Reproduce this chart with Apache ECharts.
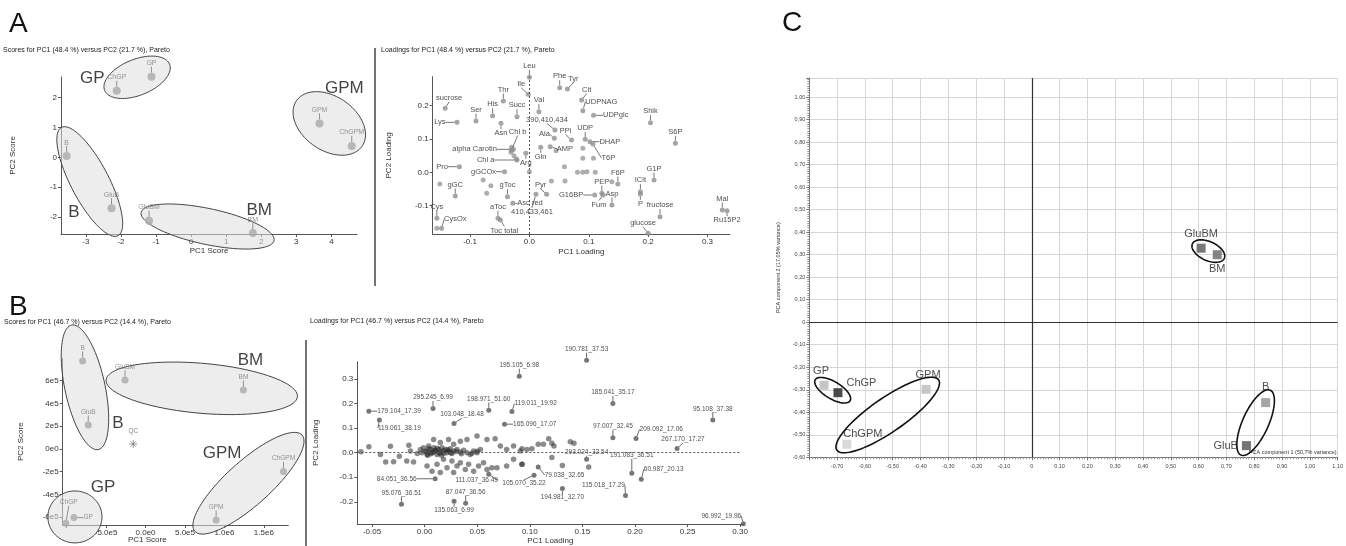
<!DOCTYPE html>
<html><head><meta charset="utf-8">
<script src="https://cdn.jsdelivr.net/npm/echarts@6/dist/echarts.min.js"></script>
<style>html,body{margin:0;padding:0;background:#fff}#c{width:1346px;height:546px}</style>
</head><body><div id="c"></div>
<script>
// ---------- Panel A: scores ----------
const A_SC_NAMES = ['ChGP','GP','GPM','ChGPM','B','GluB','GluBM','BM'];
const A_SC_PC1 = [-2.12,-1.13,3.66,4.58,-3.55,-2.27,-1.2,1.76];
const A_SC_PC2 = [2.22,2.69,1.13,0.38,0.04,-1.7,-2.12,-2.53];
const A_GROUPS = ['GP','GPM','B','BM'];
const A_GROUP_X = [-2.82,4.37,-3.34,1.94];
const A_GROUP_Y = [2.63,2.29,-1.84,-1.76];
// ellipse: centre x,y, semi-axis vector 1, semi-axis vector 2 (data units)
const A_ELLIPSES = [
  [-1.54,2.67,0.926,0.437,0.191,-0.557],
  [3.94,1.13,0.934,-0.763,-0.442,-0.737],
  [-2.89,-0.81,0.806,-1.807,-0.481,-0.293],
  [0.47,-2.31,1.895,-0.47,-0.105,-0.587]
];
// ---------- Panel A: loadings ----------
const LA_NAMES = ['Leu','Ile','Phe','Tyr','Cit','UDPNAG','UDPglc','Shik','S6P','Thr','sucrose','His','Succ','Ser','Val','Lys','390,410,434','PPi','Asn','Chl b','Ala','AMP','Gln','alpha Carotin','Chl a','Arg','Pro','gGCOx','gGC','gToc','Pyr','Asc red','410,433,461','aToc','Toc total','Cys','CysOx','UDP','DHAP','T6P','G1P','F6P','PEP','ICit','P','G16BP','Fum','Asp','fructose','Mal','Ru15P2','glucose'];
const LA_PC1 = [0.0,-0.002,0.051,0.064,0.088,0.09,0.108,0.204,0.246,-0.044,-0.142,-0.062,-0.021,-0.09,0.016,-0.122,0.043,0.071,-0.048,-0.03,0.042,0.035,0.019,-0.027,-0.021,-0.006,-0.118,-0.042,-0.125,-0.037,0.029,-0.028,0.011,-0.053,-0.049,-0.156,-0.148,0.094,0.102,0.107,0.21,0.149,0.122,0.187,0.187,0.11,0.124,0.139,0.22,0.325,0.333,0.2];
const LA_PC2 = [0.285,0.234,0.254,0.25,0.217,0.185,0.171,0.149,0.087,0.214,0.192,0.17,0.167,0.154,0.182,0.15,0.127,0.097,0.147,0.067,0.102,0.077,0.075,0.069,0.037,0.057,0.017,0.002,-0.071,-0.073,-0.066,-0.093,-0.066,-0.138,-0.143,-0.138,-0.168,0.099,0.092,0.085,-0.023,-0.035,-0.063,-0.058,-0.066,-0.068,-0.068,-0.098,-0.133,-0.113,-0.115,-0.183];
const LA_UN_PC1 = [0.059,0.09,0.09,0.108,0.081,0.09,0.097,0.111,0.06,0.139,0.037,-0.151,-0.078,-0.065,-0.072,-0.03,-0.026,-0.022,0.0,-0.031,0.045,-0.156];
const LA_UN_PC2 = [0.017,0.072,0.042,0.042,0.0,0.0,0.002,0.0,-0.026,-0.028,-0.026,-0.035,-0.023,-0.04,-0.063,0.075,0.05,0.04,0.002,0.06,0.065,-0.168];
// ---------- Panel B: scores ----------
const B_SC_NAMES = ['B','GluBM','BM','GluB','ChGPM','GPM','GP','ChGP'];
const B_SC_PC1 = [-7.97e5,-2.6e5,1.241e6,-7.26e5,1.749e6,8.95e5,-9.07e5,-1.01e6];
const B_SC_PC2 = [7.73e5,6.06e5,5.18e5,2.11e5,-1.99e5,-6.24e5,-6.03e5,-6.53e5];
const B_QC = [-1.55e5, 0.44e5];
const B_GROUPS = ['BM','B','GPM','GP'];
const B_GROUP_X = [1.33e6,-3.49e5,9.7e5,-5.39e5];
const B_GROUP_Y = [7.82e5,2.28e5,-0.35e5,-3.34e5];
const B_ELLIPSES = [
  [-7.68e5,5.42e5,-1.69e5,5.47e5,2.49e5,0.37e5],
  [7.13e5,5.33e5,1.213e6,-0.738e5,-0.279e5,-2.187e5],
  [-8.95e5,-5.97e5,3.43e5,0,0,2.28e5],
  [1.305e6,-3.01e5,6.79e5,4.23e5,1.87e5,-1.44e5]
];
// ---------- Panel B: loadings ----------
const LB_NAMES = ['195.105_6.98','295.245_6.99','198.971_51.60','119.011_19.92','179.104_17.39','103.048_18.48','119.061_38.19','165.096_17.07','190.781_37.53','185.041_35.17','95.108_37.38','97.007_32.45','209.092_17.06','267.170_17.27','293.024_32.54','191.083_36.51','60.987_20.13','79.038_32.65','105.070_35.22','194.981_32.70','115.018_17.29','96.992_19.96','84.051_36.56','111.037_36.49','87.047_36.56','95.076_36.51','135.063_6.99'];
const LB_PC1 = [0.090,0.008,0.061,0.083,-0.053,0.028,-0.043,0.076,0.154,0.179,0.274,0.179,0.201,0.240,0.154,0.197,0.206,0.108,0.104,0.131,0.191,0.303,0.010,0.061,0.039,-0.022,0.028];
const LB_PC2 = [0.311,0.180,0.173,0.167,0.169,0.119,0.133,0.116,0.376,0.200,0.133,0.061,0.058,0.017,-0.027,-0.084,-0.108,-0.058,-0.092,-0.146,-0.174,-0.289,-0.106,-0.088,-0.206,-0.210,-0.197];
const LB_UN_PC1 = [-0.0605,-0.053,-0.042,-0.037,-0.0325,-0.0295,-0.024,-0.017,-0.015,-0.0135,-0.0105,-0.007,
 -0.004,-0.0025,-0.001,0.0007,0.0023,0.0038,0.0054,0.007,0.0086,0.0102,0.0118,0.0133,0.0149,0.0165,0.018,0.0197,0.0213,0.0228,0.0244,0.026,0.0276,0.0308,0.034,0.0371,0.0403,0.0434,0.0466,0.0498,0.053,
 0.002,0.006,0.01,0.004,0.014,0.008,0.018,0.022,0.012,0.003,0.016,0.025,0.03,0.035,0.045,0.05,
 0.0086,0.0149,0.0228,0.0276,0.034,0.0403,0.0498,0.0593,0.067,0.072,0.078,0.0846,0.091,0.0973,
 0.0023,0.007,0.0118,0.0149,0.018,0.0213,0.026,0.0276,0.0308,0.034,0.0387,0.0418,0.0466,0.0513,0.056,0.0593,0.064,0.0688,0.078,0.0846,0.0926,
 0.0926,0.102,0.108,0.113,0.118,0.121,0.123,0.1385,0.142,0.0926,0.121,0.131,0.156];
const LB_UN_PC2 = [0.004,0.024,-0.007,-0.038,0.026,-0.037,-0.014,-0.034,0.03,0.007,-0.038,-0.003,
 0.013,0.0,0.02,0.0066,-0.007,0.027,0.013,0.0,0.02,0.0066,-0.007,0.013,0.0025,0.02,-0.003,0.013,0.0,0.0066,0.016,-0.003,0.0066,0.013,0.0025,0.01,0.0,-0.007,0.0066,0.0,0.013,
 0.004,-0.004,0.01,0.016,-0.002,0.002,0.008,0.012,0.018,-0.01,-0.01,0.0,0.005,-0.004,-0.002,0.006,
 0.054,0.041,0.054,0.034,0.047,0.054,0.0675,0.054,0.057,0.027,0.013,0.027,0.0066,0.013,
 -0.054,-0.075,-0.0475,-0.081,-0.027,-0.061,-0.034,-0.081,-0.054,-0.041,-0.068,-0.0475,-0.075,-0.054,-0.041,-0.068,-0.061,-0.061,-0.054,-0.027,-0.0475,
 0.016,0.016,0.034,0.034,0.057,0.038,0.027,0.044,0.038,-0.0475,-0.02,-0.052,-0.058];
// ---------- Panel C ----------
const C_NAMES = ['GP','ChGP','GPM','ChGPM','GluBM','BM','B','GluB'];
const C_PC1 = [-0.747,-0.697,-0.38,-0.665,0.609,0.667,0.841,0.772];
const C_PC2 = [-0.28,-0.313,-0.298,-0.542,0.329,0.3,-0.357,-0.548];
const C_ELLIPSES = [
  [-0.716,-0.302,0.0627,-0.0467,-0.0158,-0.0324],
  [-0.518,-0.412,0.183,0.156,0.0344,-0.0622],
  [0.635,0.316,0.0573,-0.0324,-0.014,-0.0382],
  [0.805,-0.446,0.0527,0.144,0.0423,-0.0238]
];

// ---------- styles (label placement: [position, dx, dy]) ----------
const FONT = 'Liberation Sans, Arial, sans-serif';
const LA_LABEL = {
  'Ile':['top',-7,-2],'Tyr':['top',6,-2],'Cit':['top',5,-2],'UDPNAG':['right',-2,-9],'UDPglc':['right',5,0],
  'sucrose':['top',4,-2],'Lys':['left',-7,0],'390,410,434':['top',-8,-2],'PPi':['top',-6,-1],'Asn':['bottom',0,1],
  'Chl b':['top',6,-10],'Ala':['left',0,-4],'AMP':['right',2,2],'Gln':['bottom',0,1],'alpha Carotin':['left',-12,0],
  'Chl a':['left',-18,0],'Arg':['bottom',0,1],'Pro':['left',-7,0],'gGCOx':['left',-4,0],'Pyr':['top',-6,-1],
  'Asc red':['right',0,0],'410,433,461':['bottom',-4,9],'Toc total':['bottom',4,2],'CysOx':['right',-2,-9],
  'DHAP':['right',5,0],'T6P':['right',4,14],'P':['bottom',0,1],'G16BP':['left',-7,0],'Fum':['bottom',-4,1],
  'Ru15P2':['bottom',0,1],'glucose':['top',-5,-2]
};
const LB_LABEL = {
  '119.011_19.92':['right',-2,-8],'179.104_17.39':['right',4,0],'103.048_18.48':['top',8,-1],
  '119.061_38.19':['bottom',20,0],'165.096_17.07':['right',4,0],'209.092_17.06':['right',-1,-9],
  '267.170_17.27':['top',6,-1],'293.024_32.54':['top',0,1],'191.083_36.51':['top',0,-10],
  '60.987_20.13':['right',-2,-10],'79.038_32.65':['right',2,8],'105.070_35.22':['bottom',-10,0],
  '194.981_32.70':['bottom',0,1],'115.018_17.29':['top',-22,-2],'96.992_19.96':['top',-22,0],
  '84.051_36.56':['left',-14,0],'111.037_36.49':['bottom',-12,-2],'135.063_6.99':['bottom',0,1]
};
const B_SC_LABEL = {'GP':['right',4,0],'ChGP':['top',3,-12]};
const C_COLORS = {'GP':'#b6b6b6','ChGP':'#1e1e1e','GPM':'#bcbcbc','ChGPM':'#d0d0d0','GluBM':'#565656','BM':'#666666','B':'#8e8e8e','GluB':'#515151'};
const C_LABEL = {'GP':['top',-3,0],'ChGP':['right',0,-10],'GPM':['top',2,0],'ChGPM':['top',16,4],'GluBM':['top',0,0],'BM':['bottom',0,0],'B':['top',0,-2],'GluB':['left',0,0]};

function pts(names, xs, ys, lmap, defPos){
  return xs.map((x,i)=>{
    const n = names ? names[i] : '';
    const s = (lmap && lmap[n]) || [defPos,0,0];
    return {name:n, value:[x, ys[i]], label:{position:s[0]}};
  });
}
function layoutFn(names, lmap, defDy){
  return p => { const s = lmap && lmap[names[p.dataIndex]]; return s ? {dx:s[1], dy:s[2]} : {dx:0, dy:defDy}; };
}
function ellipse(xi, data, style){
  return {type:'custom', xAxisIndex:xi, yAxisIndex:xi, z:1, silent:true, clip:false,
    encode:{x:0,y:1}, data:data,
    renderItem:(params, api)=>{
      const c=[api.value(0),api.value(1)], a=[api.value(2),api.value(3)], b=[api.value(4),api.value(5)];
      const p=[];
      for(let i=0;i<90;i++){const t=i/90*2*Math.PI;
        p.push(api.coord([c[0]+a[0]*Math.cos(t)+b[0]*Math.sin(t), c[1]+a[1]*Math.cos(t)+b[1]*Math.sin(t)]));}
      return {type:'polygon', shape:{points:p}, style:style};
    }};
}
function groupLabels(xi, names, xs, ys){
  return {type:'scatter', xAxisIndex:xi, yAxisIndex:xi, z:6, silent:true, clip:false, symbolSize:1,
    itemStyle:{color:'rgba(0,0,0,0)'},
    label:{show:true, position:'inside', formatter:'{b}', fontSize:17, color:'#111', fontFamily:FONT},
    data: pts(names, xs, ys, null, 'inside')};
}
function dotted(xi, lines){
  return {type:'scatter', xAxisIndex:xi, yAxisIndex:xi, data:[], silent:true,
    markLine:{silent:true, symbol:'none', animation:false, label:{show:false},
      lineStyle:{color:'#555', type:[2,2], width:1}, data:lines}};
}
function axis(gi, min, max, step, fmt, extra){
  return Object.assign({gridIndex:gi, type:'value', min:min, max:max, minInterval:step, maxInterval:step,
    splitLine:{show:false}, axisLine:{onZero:false, lineStyle:{color:'#555'}},
    axisTick:{length:3, lineStyle:{color:'#555'}},
    axisLabel:{fontSize:8, color:'#333', fontFamily:FONT, margin:4, formatter:fmt, showMinLabel:false, showMaxLabel:false},
    nameTextStyle:{fontSize:8, color:'#333', fontFamily:FONT}}, extra||{});
}
const f1 = v => v.toFixed(1), f2 = v => v.toFixed(2), f0 = v => String(Math.round(v));
const fe1 = v => v <= -9.9e5 ? '' : v.toExponential(1).replace('+','');
const fe0 = v => v.toExponential(0).replace('+','');
const fc = v => Math.abs(v) < 1e-9 ? '0' : v.toFixed(2).replace('.',',');

const ellStyleAB = {fill:'rgba(222,222,222,0.55)', stroke:'#444', lineWidth:1};
const ellStyleC = {fill:'none', stroke:'#111', lineWidth:1.6};
const smallLbl = (col, fs) => ({show:true, formatter:'{b}', fontSize:fs, color:col, fontFamily:FONT, distance:2});

const option = {
  animation:false,
  backgroundColor:'#fff',
  title:[
    {text:'A', left:9, top:10, padding:0, textStyle:{fontSize:28, fontWeight:'normal', color:'#111', fontFamily:FONT}},
    {text:'B', left:9, top:293, padding:0, textStyle:{fontSize:28, fontWeight:'normal', color:'#111', fontFamily:FONT}},
    {text:'C', left:782, top:9, padding:0, textStyle:{fontSize:28, fontWeight:'normal', color:'#111', fontFamily:FONT}},
    {text:'Scores for PC1 (48.4 %) versus PC2 (21.7 %), Pareto', left:3, top:47, padding:0, textStyle:{fontSize:7, fontWeight:'normal', color:'#222', fontFamily:FONT}},
    {text:'Loadings for PC1 (48.4 %) versus PC2 (21.7 %), Pareto', left:381, top:47, padding:0, textStyle:{fontSize:7, fontWeight:'normal', color:'#222', fontFamily:FONT}},
    {text:'Scores for PC1 (46.7 %) versus PC2 (14.4 %), Pareto', left:4, top:319, padding:0, textStyle:{fontSize:7, fontWeight:'normal', color:'#222', fontFamily:FONT}},
    {text:'Loadings for PC1 (46.7 %) versus PC2 (14.4 %), Pareto', left:310, top:318, padding:0, textStyle:{fontSize:7, fontWeight:'normal', color:'#222', fontFamily:FONT}},
    {text:'PC1 Score', left:128, top:536, padding:0, textStyle:{fontSize:8, fontWeight:'normal', color:'#333', fontFamily:FONT}}
  ],
  graphic:[
    {type:'line', shape:{x1:375,y1:48,x2:375,y2:286}, style:{stroke:'#444', lineWidth:1.5}},
    {type:'line', shape:{x1:306,y1:340,x2:306,y2:546}, style:{stroke:'#444', lineWidth:1.5}}
  ],
  grid:[
    {left:61, top:77, width:296, height:157},
    {left:432.7, top:76.7, width:297.3, height:157.3},
    {left:62.7, top:358.5, width:225.6, height:166.5},
    {left:357.3, top:361.7, width:386, height:163.3},
    {left:809.3, top:78, width:530.7, height:379.3}
  ],
  xAxis:[
    axis(0,-3.71,4.73,1,f0,{name:'PC1 Score', nameLocation:'middle', nameGap:13}),
    axis(1,-0.163,0.338,0.1,f1,{name:'PC1 Loading', nameLocation:'middle', nameGap:14}),
    axis(2,-1.05e6,1.81e6,5e5,fe1),
    axis(3,-0.064,0.303,0.05,f2,{name:'PC1 Loading', nameLocation:'middle', nameGap:13}),
    {gridIndex:4, type:'value', min:-0.8, max:1.1, interval:0.1,
      splitLine:{show:true, lineStyle:{color:'#d6d6d6', width:1}},
      axisLine:{onZero:false, lineStyle:{color:'#777'}}, axisTick:{length:3, lineStyle:{color:'#777'}},
      minorTick:{show:true, splitNumber:10, length:2, lineStyle:{color:'#999'}},
      axisLabel:{fontSize:5.5, color:'#444', fontFamily:FONT, margin:6, formatter:fc, showMinLabel:false, showMaxLabel:true},
      name:'PCA component 1 (50,7% variance)', nameLocation:'end', nameGap:-1,
      nameTextStyle:{fontSize:5.5, color:'#333', fontFamily:FONT, align:'right', verticalAlign:'bottom', padding:[0,0,2,0]}}
  ],
  yAxis:[
    axis(0,-2.56,2.68,1,f0,{name:'PC2 Score', nameLocation:'middle', nameGap:44}),
    axis(1,-0.185,0.287,0.1,f1,{name:'PC2 Loading', nameLocation:'middle', nameGap:40}),
    axis(2,-6.68e5,7.95e5,2e5,fe0,{name:'PC2 Score', nameLocation:'middle', nameGap:38}),
    axis(3,-0.29,0.37,0.1,f1,{name:'PC2 Loading', nameLocation:'middle', nameGap:38}),
    {gridIndex:4, type:'value', min:-0.6, max:1.085, interval:0.1,
      splitLine:{show:true, lineStyle:{color:'#d6d6d6', width:1}},
      axisLine:{onZero:false, lineStyle:{color:'#777'}}, axisTick:{length:3, lineStyle:{color:'#777'}},
      minorTick:{show:true, splitNumber:10, length:2, lineStyle:{color:'#999'}},
      axisLabel:{fontSize:5.5, color:'#444', fontFamily:FONT, margin:4, formatter:fc, showMinLabel:true, showMaxLabel:false},
      name:'PCA component 2 (17,05% variance)', nameLocation:'middle', nameGap:28,
      nameTextStyle:{fontSize:5.5, color:'#333', fontFamily:FONT}}
  ],
  series:[
    // ---- A scores
    ellipse(0, A_ELLIPSES, ellStyleAB),
    dotted(0, [[{coord:[0,-2.56]},{coord:[0,3.45]}],[{coord:[-3.71,0]},{coord:[5.1,0]}]]),
    {type:'scatter', xAxisIndex:0, yAxisIndex:0, z:4, clip:false, symbolSize:8,
      itemStyle:{color:'#a9a9a9'}, label:smallLbl('#7a7a7a',7),
      labelLine:{show:true, lineStyle:{color:'#777', width:0.8}},
      labelLayout: layoutFn(A_SC_NAMES, null, -4),
      data: pts(A_SC_NAMES, A_SC_PC1, A_SC_PC2, null, 'top')},
    groupLabels(0, A_GROUPS, A_GROUP_X, A_GROUP_Y),
    // ---- A loadings
    dotted(1, [[{coord:[0,-0.185]},{coord:[0,0.287]}],[{coord:[-0.163,0]},{coord:[0.355,0]}]]),
    {type:'scatter', xAxisIndex:1, yAxisIndex:1, z:3, clip:false, symbolSize:5,
      itemStyle:{color:'#9a9a9a'}, data: pts(null, LA_UN_PC1, LA_UN_PC2, null, 'top')},
    {type:'scatter', xAxisIndex:1, yAxisIndex:1, z:4, clip:false, symbolSize:5,
      itemStyle:{color:'#8e8e8e'}, label:smallLbl('#222',7.5),
      labelLine:{show:true, lineStyle:{color:'#555', width:0.8}},
      labelLayout: layoutFn(LA_NAMES, LA_LABEL, -3),
      data: pts(LA_NAMES, LA_PC1, LA_PC2, LA_LABEL, 'top')},
    // ---- B scores
    ellipse(2, B_ELLIPSES, ellStyleAB),
    dotted(2, [[{coord:[0,-6.68e5]},{coord:[0,1.115e6]}],[{coord:[-1.05e6,0]},{coord:[1.96e6,0]}]]),
    {type:'scatter', xAxisIndex:2, yAxisIndex:2, z:4, clip:false, symbolSize:7,
      itemStyle:{color:'#a9a9a9'}, label:smallLbl('#7a7a7a',6.5),
      labelLine:{show:true, lineStyle:{color:'#777', width:0.8}},
      labelLayout: layoutFn(B_SC_NAMES, B_SC_LABEL, -4),
      data: pts(B_SC_NAMES, B_SC_PC1, B_SC_PC2, B_SC_LABEL, 'top')},
    {type:'scatter', xAxisIndex:2, yAxisIndex:2, z:4, clip:false, symbolSize:8,
      symbol:'path://M0,-5L0,5M-5,0L5,0M-3.5,-3.5L3.5,3.5M-3.5,3.5L3.5,-3.5',
      itemStyle:{color:'none', borderColor:'#666', borderWidth:0.8},
      label:Object.assign(smallLbl('#666',6.5),{position:'top', distance:3}),
      data:[{name:'QC', value:B_QC}]},
    groupLabels(2, B_GROUPS, B_GROUP_X, B_GROUP_Y),
    // ---- B loadings
    dotted(3, [[{coord:[0,-0.29]},{coord:[0,0.46]}],[{coord:[-0.064,0]},{coord:[0.3,0]}]]),
    {type:'scatter', xAxisIndex:3, yAxisIndex:3, z:3, clip:false, symbolSize:5.5,
      itemStyle:{color:'rgba(40,40,40,0.68)'}, data: pts(null, LB_UN_PC1, LB_UN_PC2, null, 'top')},
    {type:'scatter', xAxisIndex:3, yAxisIndex:3, z:4, clip:false, symbolSize:5,
      itemStyle:{color:'#555'}, label:smallLbl('#222',6.5),
      labelLine:{show:true, lineStyle:{color:'#444', width:0.8}},
      labelLayout: layoutFn(LB_NAMES, LB_LABEL, -3),
      data: pts(LB_NAMES, LB_PC1, LB_PC2, LB_LABEL, 'top')},
    // ---- C
    {type:'scatter', xAxisIndex:4, yAxisIndex:4, data:[], silent:true,
      markLine:{silent:true, symbol:'none', animation:false, label:{show:false},
        lineStyle:{color:'#333', type:'solid', width:1.2}, data:[{xAxis:0},{yAxis:0}]}},
    ellipse(4, C_ELLIPSES, ellStyleC),
    {type:'scatter', xAxisIndex:4, yAxisIndex:4, z:4, clip:false, symbol:'rect', symbolSize:9,
      label:{show:true, formatter:'{b}', fontSize:11, color:'#222', fontFamily:FONT, distance:4},
      labelLayout: layoutFn(C_NAMES, C_LABEL, 0),
      data: C_NAMES.map((n,i)=>({name:n, value:[C_PC1[i], C_PC2[i]],
        itemStyle:{color:C_COLORS[n]}, label:{position:C_LABEL[n][0]}}))}
  ]
};
const chart = echarts.init(document.getElementById('c'), null, {renderer:'canvas'});
chart.setOption(option);
</script></body></html>
